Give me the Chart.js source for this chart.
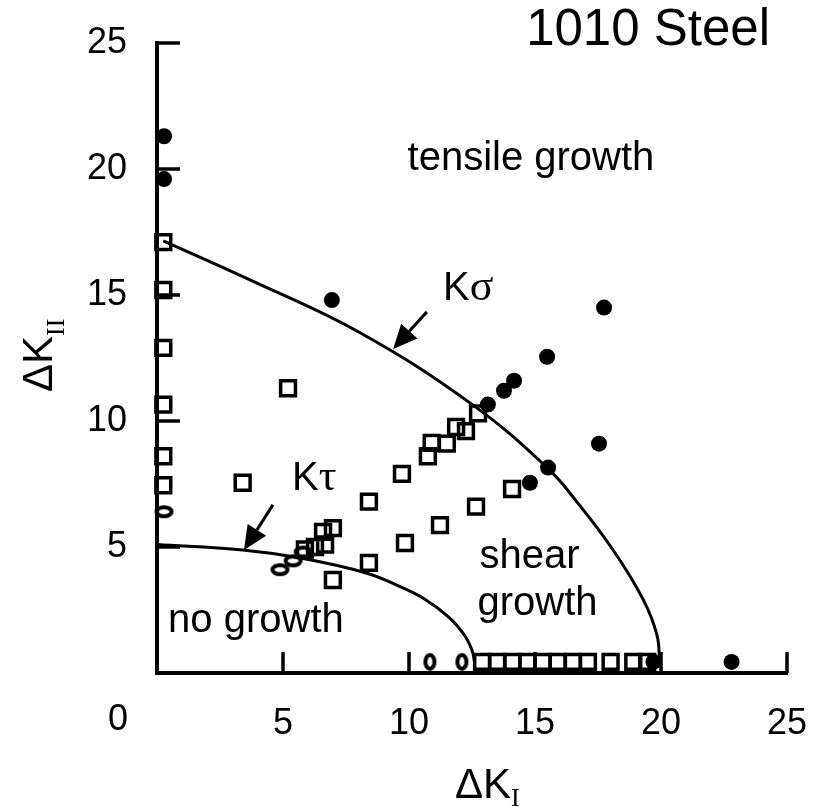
<!DOCTYPE html>
<html>
<head>
<meta charset="utf-8">
<script src="https://cdn.jsdelivr.net/npm/chart.js@4.4.0/dist/chart.umd.min.js"></script>
<style>
  html, body { margin: 0; padding: 0; background: #fff; }
  #caixa { width: 813px; height: 806px; }
</style>
</head>
<body>
<div id="caixa"><canvas id="grafico" width="813" height="806"></canvas></div>
<script>
// tensile growth (pontos cheios)
const tensilX = [0.28, 0.28, 6.94, 17.74, 15.48, 14.17, 13.77, 13.13, 17.54, 15.52, 14.8, 19.7, 22.8];
const tensilY = [21.3, 19.6, 14.8, 14.5, 12.55, 11.6, 11.2, 10.65, 9.1, 8.15, 7.55, 0.44, 0.44];

// shear growth (quadrados abertos)
const cisalhX = [0.25, 0.25, 0.25, 0.25, 0.25, 0.25, 5.2, 3.4, 12.74, 11.87, 12.26, 10.9, 11.5, 10.75, 9.72, 8.41,
  14.09, 12.66, 11.23, 9.84, 8.41, 6.98, 6.98, 6.59, 6.67, 6.27, 5.87,
  12.9, 13.5, 14.1, 14.7, 15.3, 15.9, 16.5, 17.1, 18.0, 18.9, 19.45];
const cisalhY = [17.1, 15.2, 12.9, 10.65, 8.6, 7.45, 11.3, 7.55, 10.3, 9.76, 9.6, 9.13, 9.1, 8.6, 7.9, 6.8,
  7.3, 6.6, 5.87, 5.16, 4.37, 3.69, 5.75, 5.6, 5.1, 5.0, 4.9,
  0.44, 0.44, 0.44, 0.44, 0.44, 0.44, 0.44, 0.44, 0.44, 0.44, 0.44];

// no growth (elipses abertas)
const semCrescX = [0.28, 4.88, 5.4, 5.8, 10.83, 12.1];
const semCrescY = [6.4, 4.1, 4.45, 4.8, 0.44, 0.44];

// curva K sigma
const kSigmaX = [0.25, 3.69, 8.06, 12.54, 15.5, 16.6, 18.1, 19.3, 19.84, 19.95];
const kSigmaY = [17.15, 15.6, 13.5, 10.63, 8.13, 6.87, 4.88, 2.9, 1.5, 0.4];

// curva K tau
const kTauX = [0, 3.4, 5.7, 8.3, 9.6, 10.6, 11.6, 12.2, 12.5, 12.6];
const kTauY = [5.1, 4.88, 4.56, 3.97, 3.45, 2.95, 2.2, 1.5, 0.9, 0.45];

const ticksX = [0, 5, 10, 15, 20, 25];
const ticksY = [0, 5, 10, 15, 20, 25];

const pares = (xs, ys) => xs.map((x, i) => ({ x: x, y: ys[i] }));

function elipse(w, h) {
    const c = document.createElement('canvas');
    c.width = w + 4; c.height = h + 4;
    const g = c.getContext('2d');
    g.lineWidth = 4; g.strokeStyle = '#000';
    g.beginPath();
    g.ellipse(c.width / 2, c.height / 2, w / 2 - 1, h / 2 - 1, 0, 0, Math.PI * 2);
    g.stroke();
    return c;
}
const elipseDeitada = elipse(17, 11);
const elipseEmPe = elipse(11, 16);

function seta(ctx, x1, y1, x2, y2) {
    const ang = Math.atan2(y2 - y1, x2 - x1);
    const comp = 24, meia = 11;
    const bx = x2 - comp * Math.cos(ang), by = y2 - comp * Math.sin(ang);
    ctx.beginPath();
    ctx.moveTo(x1, y1);
    ctx.lineTo(bx, by);
    ctx.stroke();
    ctx.beginPath();
    ctx.moveTo(x2, y2);
    ctx.lineTo(bx + meia * Math.sin(ang), by - meia * Math.cos(ang));
    ctx.lineTo(bx - meia * Math.sin(ang), by + meia * Math.cos(ang));
    ctx.closePath();
    ctx.fill();
}

// escreve pedaços de texto com fontes diferentes (subscritos, letras gregas)
function textoPartes(ctx, partes, x, y) {
    let px = x;
    partes.forEach(p => {
        ctx.font = p.fonte;
        ctx.fillText(p.t, px, y + (p.dy || 0));
        px += ctx.measureText(p.t).width;
    });
}

const anotacoes = {
    id: 'anotacoes',
    afterDatasetsDraw(chart) {
        const { ctx, chartArea, scales: { x, y } } = chart;
        ctx.save();
        ctx.strokeStyle = '#000';
        ctx.fillStyle = '#000';
        ctx.lineWidth = 3.5;

        // marcas dos ticks para dentro
        ticksX.filter(v => v > 0).forEach(v => {
            const px = x.getPixelForValue(v);
            ctx.beginPath();
            ctx.moveTo(px, chartArea.bottom);
            ctx.lineTo(px, chartArea.bottom - 21);
            ctx.stroke();
        });
        ticksY.filter(v => v > 0).forEach(v => {
            const py = y.getPixelForValue(v);
            ctx.beginPath();
            ctx.moveTo(chartArea.left, py);
            ctx.lineTo(chartArea.left + 23, py);
            ctx.stroke();
        });

        // setas
        ctx.lineWidth = 3;
        seta(ctx, x.getPixelForValue(10.71), y.getPixelForValue(14.33), x.getPixelForValue(9.37), y.getPixelForValue(12.86));
        seta(ctx, x.getPixelForValue(4.6), y.getPixelForValue(6.67), x.getPixelForValue(3.45), y.getPixelForValue(4.88));

        const sans = '40px "Liberation Sans", Arial, sans-serif';
        const serif = '44px "Liberation Serif", "Times New Roman", serif';
        ctx.textBaseline = 'alphabetic';

        ctx.textAlign = 'center';
        ctx.font = sans;
        ctx.fillText('tensile growth', x.getPixelForValue(14.84), y.getPixelForValue(19.96));
        ctx.fillText('shear', x.getPixelForValue(14.78), y.getPixelForValue(4.17));
        ctx.fillText('growth', x.getPixelForValue(15.1), y.getPixelForValue(2.3));

        ctx.textAlign = 'left';
        ctx.fillText('no growth', x.getPixelForValue(0.44), y.getPixelForValue(1.63));
        textoPartes(ctx, [{ t: 'K', fonte: sans }, { t: 'σ', fonte: serif }], x.getPixelForValue(11.35), y.getPixelForValue(14.8));
        textoPartes(ctx, [{ t: 'K', fonte: sans }, { t: 'τ', fonte: serif }], x.getPixelForValue(5.36), y.getPixelForValue(7.26));

        // titulo
        ctx.textAlign = 'right';
        ctx.font = '51px "Liberation Sans", Arial, sans-serif';
        ctx.fillText('1010 Steel', chartArea.right - 17, chartArea.top + 2);

        // rotulo 0 do eixo x, deslocado para a esquerda
        ctx.textAlign = 'center';
        ctx.textBaseline = 'top';
        ctx.font = '36px "Liberation Sans", Arial, sans-serif';
        ctx.fillText('0', chartArea.left - 39, chartArea.bottom + 29);

        // titulos dos eixos
        ctx.textAlign = 'left';
        ctx.textBaseline = 'alphabetic';
        textoPartes(ctx, [
            { t: 'ΔK', fonte: '42px "Liberation Sans", Arial, sans-serif' },
            { t: 'I', fonte: '26px "Liberation Serif", serif', dy: 8 }
        ], 455, 798);

        ctx.translate(52, 392);
        ctx.rotate(-Math.PI / 2);
        textoPartes(ctx, [
            { t: 'ΔK', fonte: '42px "Liberation Sans", Arial, sans-serif' },
            { t: 'II', fonte: '26px "Liberation Serif", serif', dy: 12 }
        ], 0, 0);
        ctx.restore();
    }
};

const fonteTick = { family: '"Liberation Sans", Arial, sans-serif', size: 36 };

new Chart(document.getElementById('grafico').getContext('2d'), {
    type: 'scatter',
    data: {
        datasets: [
            {
                label: 'K sigma',
                data: pares(kSigmaX, kSigmaY),
                showLine: true,
                borderColor: '#000',
                borderWidth: 3,
                pointRadius: 0,
                tension: 0.4,
                clip: false,
                order: 3
            },
            {
                label: 'K tau',
                data: pares(kTauX, kTauY),
                showLine: true,
                borderColor: '#000',
                borderWidth: 3,
                pointRadius: 0,
                tension: 0.4,
                clip: false,
                order: 3
            },
            {
                label: 'shear growth',
                data: pares(cisalhX, cisalhY),
                pointStyle: 'rect',
                pointRadius: 10.5,
                borderWidth: 3.5,
                borderColor: '#000',
                backgroundColor: 'rgba(0,0,0,0)',
                clip: false,
                order: 2
            },
            {
                label: 'no growth',
                data: pares(semCrescX, semCrescY),
                pointStyle: c => (c.raw && c.raw.y < 1 ? elipseEmPe : elipseDeitada),
                pointRadius: 8,
                clip: false,
                order: 2
            },
            {
                label: 'tensile growth',
                data: pares(tensilX, tensilY),
                pointStyle: 'circle',
                pointRadius: 8,
                borderWidth: 0,
                backgroundColor: '#000',
                clip: false,
                order: 1
            }
        ]
    },
    options: {
        responsive: false,
        animation: false,
        layout: { padding: { top: 43, right: 26, left: 0, bottom: 0 } },
        plugins: { legend: { display: false }, tooltip: { enabled: false } },
        scales: {
            x: {
                type: 'linear',
                min: 0,
                max: 25,
                afterBuildTicks: s => { s.ticks = ticksX.map(v => ({ value: v })); },
                afterFit: s => { s.height = 133; s.paddingLeft = 0; s.paddingRight = 0; },
                grid: { display: false, drawTicks: false },
                border: { display: true, width: 4, color: '#000' },
                ticks: { color: '#000', font: fonteTick, padding: 29, maxRotation: 0, callback: v => (v === 0 ? '' : v) }
            },
            y: {
                type: 'linear',
                min: 0,
                max: 25,
                afterBuildTicks: s => { s.ticks = ticksY.map(v => ({ value: v })); },
                afterFit: s => { s.width = 157; s.paddingTop = 0; s.paddingBottom = 0; },
                grid: { display: false, drawTicks: false },
                border: { display: true, width: 4, color: '#000' },
                ticks: { color: '#000', font: fonteTick, padding: 30, callback: v => (v === 0 ? '' : v) }
            }
        }
    },
    plugins: [anotacoes]
});
</script>
</body>
</html>
